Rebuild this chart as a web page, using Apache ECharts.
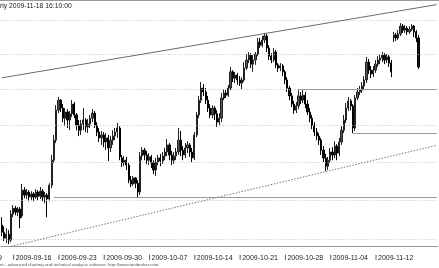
<!DOCTYPE html>
<html><head><meta charset="utf-8">
<script src="https://cdn.jsdelivr.net/npm/echarts@6/dist/echarts.min.js"></script>
<style>html,body{margin:0;padding:0;background:#fff}#c{width:439px;height:268px}</style>
</head><body><div id="c"></div>
<script>
// trading days shown (first one only partly visible, last two are blank future days)
const tradingDays = ['2009-09-14','2009-09-15','2009-09-16','2009-09-17','2009-09-18','2009-09-21','2009-09-22','2009-09-23','2009-09-24','2009-09-25','2009-09-28','2009-09-29','2009-09-30','2009-10-01','2009-10-02','2009-10-05','2009-10-06','2009-10-07','2009-10-08','2009-10-09','2009-10-12','2009-10-13','2009-10-14','2009-10-15','2009-10-16','2009-10-19','2009-10-20','2009-10-21','2009-10-22','2009-10-23','2009-10-26','2009-10-27','2009-10-28','2009-10-29','2009-10-30','2009-11-02','2009-11-03','2009-11-04','2009-11-05','2009-11-06','2009-11-09','2009-11-10','2009-11-12','2009-11-13','2009-11-16','2009-11-17','2009-11-18','2009-11-19','2009-11-20'];
const sessionSlots = ['10:00','11:45','13:30','15:15'];
const tickDates = ['2009-09-16','2009-09-23','2009-09-30','2009-10-07','2009-10-14','2009-10-21','2009-10-28','2009-11-04','2009-11-12'];
const clippedTickLabel = '2009-09-09';
// [open, close, low, high]
const ohlc = [
[33.36,33.18,33.08,33.56],
[33.18,33.03,32.96,33.33],[33.03,33.13,32.91,33.28],[33.13,32.98,32.88,33.23],[32.98,33.64,32.93,33.74],
[33.64,33.79,33.56,33.87],[33.79,33.69,33.61,33.85],[33.69,33.77,33.59,33.82],[33.77,33.54,33.28,33.82],
[33.59,34.26,33.54,34.42],[34.26,34.13,34.05,34.34],[34.13,34.21,34.03,34.29],[34.21,34.08,33.97,34.26],
[34.08,34.16,34.00,34.23],[34.16,34.08,33.97,34.21],[34.08,34.21,34.03,34.29],[34.21,34.10,34.00,34.26],
[34.10,34.23,34.03,34.34],[34.23,34.08,33.97,34.29],[34.08,34.13,33.92,34.21],[34.13,34.03,33.56,34.18],
[34.03,34.39,33.97,34.44],[34.39,35.05,34.31,35.19],[35.05,35.59,34.98,35.73],[35.59,36.41,35.51,36.55],
[36.41,36.69,36.33,36.78],[36.69,36.47,36.36,36.72],[36.47,36.19,36.08,36.58],[36.19,36.36,35.97,36.47],
[36.36,36.14,35.92,36.44],[36.14,36.31,35.86,36.39],[36.31,36.58,36.22,36.69],[36.58,36.28,36.19,36.64],
[36.28,36.00,35.86,36.33],[36.00,35.86,35.70,36.14],[35.86,36.03,35.73,36.14],[36.03,36.14,35.86,36.47],
[36.14,35.95,35.81,36.19],[35.95,36.03,35.78,36.17],[36.03,36.19,35.92,36.28],[36.19,36.33,36.08,36.44],
[36.33,36.00,35.92,36.39],[36.00,35.81,35.70,36.08],[35.81,35.65,35.54,35.92],[35.65,35.73,35.46,35.84],
[35.73,35.54,35.40,35.81],[35.54,35.65,35.32,35.78],[35.65,35.38,35.03,35.73],[35.38,35.59,35.27,35.70],
[35.59,35.70,35.46,35.86],[35.70,35.81,35.59,35.92],[35.81,35.92,35.65,36.06],[35.92,35.14,35.05,35.97],
[35.11,34.98,34.87,35.19],[34.98,35.05,34.89,35.16],[35.05,34.92,34.79,35.14],[34.92,34.52,34.44,34.98],
[34.52,34.42,34.34,34.63],[34.42,34.58,34.37,34.63],[34.58,34.44,34.31,34.60],[34.44,34.21,34.08,34.52],
[34.21,35.16,34.13,35.27],[35.16,35.32,35.05,35.40],[35.32,35.19,35.05,35.38],[35.19,35.05,34.95,35.30],
[35.05,35.14,34.92,35.24],[35.14,34.98,34.84,35.19],[34.98,34.79,34.68,35.05],[34.79,35.00,34.63,35.11],
[35.00,35.11,34.92,35.19],[35.11,35.03,34.89,35.22],[35.03,35.16,34.95,35.27],[35.16,35.27,35.05,35.38],
[35.27,35.46,35.16,35.62],[35.46,35.19,35.05,35.51],[35.19,35.05,34.92,35.30],[35.05,35.16,34.95,35.27],
[35.16,35.27,35.05,35.38],[35.27,35.59,35.19,35.92],[35.59,35.32,35.16,35.84],[35.32,35.19,35.05,35.43],
[35.19,35.38,35.11,35.51],[35.38,35.46,35.24,35.56],[35.46,35.27,35.14,35.51],[35.27,35.11,35.00,35.38],
[35.11,35.73,35.05,35.81],[35.73,36.28,35.67,36.36],[36.28,36.69,36.19,36.81],[36.69,37.03,36.61,37.20],
[37.03,36.92,36.81,37.14],[36.92,36.69,36.58,37.03],[36.69,36.47,36.36,36.81],[36.47,36.28,36.19,36.58],
[36.28,36.47,36.19,36.55],[36.47,36.31,36.14,36.53],[36.31,36.08,35.95,36.41],[36.08,36.19,36.00,36.33],
[36.19,36.75,36.08,36.89],[36.75,36.89,36.69,37.00],[36.89,36.83,36.75,36.97],[36.83,37.03,36.78,37.12],
[37.03,37.49,36.97,37.63],[37.49,37.31,37.20,37.54],[37.31,37.40,37.17,37.49],[37.40,37.26,37.12,37.46],
[37.26,37.17,37.09,37.37],[37.17,37.26,37.00,37.34],[37.26,37.60,37.20,37.77],[37.60,37.83,37.54,38.00],
[37.83,37.97,37.74,38.06],[37.97,37.71,37.60,38.03],[37.71,37.83,37.49,37.97],[37.83,38.00,37.69,38.06],
[38.00,38.35,37.94,38.47],[38.35,38.26,38.18,38.47],[38.26,38.41,38.20,38.53],[38.41,38.53,38.32,38.62],
[38.53,38.18,38.06,38.59],[38.18,37.94,37.83,38.26],[37.94,37.83,37.74,38.03],[37.83,38.06,37.77,38.18],
[38.06,37.69,37.60,38.12],[37.69,37.60,37.49,37.74],[37.60,37.66,37.51,37.74],[37.66,37.49,37.37,37.71],
[37.49,37.26,37.14,37.54],[37.26,37.03,36.92,37.34],[37.03,36.81,36.69,37.09],[36.81,36.58,36.50,36.89],
[36.58,36.41,36.31,36.67],[36.41,36.53,36.33,36.64],[36.53,36.81,36.44,36.97],[36.81,36.69,36.58,36.92],
[36.69,36.83,36.61,36.97],[36.83,36.58,36.47,36.92],[36.58,36.36,36.28,36.69],[36.36,36.19,36.08,36.47],
[36.19,36.00,35.89,36.28],[36.00,35.81,35.70,36.08],[35.81,35.70,35.59,35.92],[35.70,35.59,35.46,35.78],
[35.59,35.32,35.19,35.65],[35.32,35.11,35.00,35.43],[35.11,34.89,34.76,35.22],[34.89,35.05,34.79,35.14],
[35.05,35.27,34.98,35.38],[35.27,35.19,35.05,35.40],[35.19,35.43,35.11,35.56],[35.43,35.24,35.05,35.48],
[35.24,35.54,35.16,35.65],[35.54,35.86,35.46,35.97],[35.86,36.14,35.78,36.28],[36.14,36.47,36.06,36.61],
[36.47,36.67,36.39,36.78],[36.67,36.53,36.41,36.72],[36.53,35.92,35.78,36.58],[35.92,36.75,35.84,36.83],
[36.75,36.92,36.69,37.03],[36.92,36.97,36.83,37.09],[36.97,37.09,36.89,37.20],[37.09,37.26,36.97,37.37],
[37.26,37.77,37.17,37.92],[37.77,37.54,37.43,37.86],[37.54,37.43,37.31,37.66],[37.43,37.54,37.34,37.66],
[37.54,37.71,37.46,37.83],[37.71,37.83,37.63,37.94],[37.83,37.89,37.71,38.00],[37.89,37.97,37.77,38.06],
[37.97,37.83,37.71,38.03],[37.83,37.92,37.74,38.00],[37.92,37.74,37.63,37.97],[37.74,37.49,37.34,37.83],
[38.47,38.56,38.35,38.65],[38.56,38.47,38.38,38.62],[38.47,38.59,38.41,38.70],[38.59,38.82,38.53,38.91],
[38.82,38.70,38.62,38.88],[38.70,38.76,38.62,38.85],[38.76,38.65,38.56,38.82],[38.65,38.73,38.59,38.82],
[38.73,38.82,38.67,38.88],[38.82,38.65,38.50,38.85],[38.65,38.47,38.35,38.70],[38.47,37.63,37.57,38.56]
];
const gridPrices = [33, 34, 35, 36, 37, 38, 39];
const priceRange = [32.815, 39.569];
const upperTrendBars = ['2009-09-14 15:15', '2009-11-20 15:15'];
const upperTrend = [37.32, 39.46];
const lowerTrendBars = ['2009-09-15 15:15', '2009-11-20 15:15'];
const lowerTrend = [32.822, 35.45];
const levelPrices = [34.08, 37.00, 35.78];
const levelStartBars = ['2009-09-22 13:30', '2009-10-29 13:30', '2009-11-06 13:30'];

const categories = [];
tradingDays.forEach((d, i) => sessionSlots.forEach((s, k) => {
  if (i > 0 || k === sessionSlots.length - 1) categories.push(d + ' ' + s);
}));
const lastCat = categories[categories.length - 1];
const FONT = "'Liberation Sans',Arial,sans-serif";
const isTick = v => v.endsWith(' ' + sessionSlots[0]) && tickDates.includes(v.slice(0, 10));

const chart = echarts.init(document.getElementById('c'), null, {renderer: 'canvas'});
const noLabel = {show: false};
chart.setOption({
  animation: false,
  grid: {left: 0.7, right: 1.2, top: 1, bottom: 21.3},
  xAxis: {
    type: 'category', data: categories, boundaryGap: true,
    axisLine: {show: true, lineStyle: {color: '#9a9a9a', width: 1}},
    axisTick: {show: false}, splitLine: {show: false},
    axisLabel: {
      show: true, interval: (i, v) => isTick(v), align: 'left', margin: 8,
      formatter: v => '{t|}{d|' + v.slice(0, 10) + '}',
      rich: {
        t: {width: 1, height: 5, backgroundColor: '#555', verticalAlign: 'top'},
        d: {fontSize: 7, fontFamily: FONT, color: '#222', padding: [0, 0, 0, 1.5]}
      }
    }
  },
  yAxis: {
    type: 'log', logBase: 10, min: priceRange[0], max: priceRange[1],
    axisLine: {show: false}, axisTick: {show: false}, axisLabel: {show: false}, splitLine: {show: false}
  },
  series: [
    {
      type: 'line', data: [], z: 1, silent: true,
      markLine: {
        silent: true, symbol: ['none', 'none'], label: noLabel, animation: false,
        lineStyle: {color: '#c2c2c2', type: [1, 2], width: 1},
        data: gridPrices.map(p => ({yAxis: p}))
      }
    },
    {
      type: 'candlestick', data: ohlc, z: 3, barWidth: '75%', silent: true,
      itemStyle: {color: '#555', color0: '#111', borderColor: '#222', borderColor0: '#000', borderWidth: 1}
    },
    {
      type: 'line', data: [], z: 4, silent: true,
      markLine: {
        silent: true, symbol: ['none', 'none'], label: noLabel, animation: false,
        data: [
          [{coord: [upperTrendBars[0], upperTrend[0]], lineStyle: {color: '#6a6a6a', width: 1, type: 'solid'}}, {coord: [upperTrendBars[1], upperTrend[1]]}],
          [{coord: [lowerTrendBars[0], lowerTrend[0]], lineStyle: {color: '#777', width: 1, type: [1.5, 1.5]}}, {coord: [lowerTrendBars[1], lowerTrend[1]]}]
        ].concat(levelPrices.map((p, i) => [
          {coord: [levelStartBars[i], p], lineStyle: {color: '#999', width: 1.2, type: 'solid'}},
          {coord: [lastCat, p]}
        ]))
      }
    }
  ],
  graphic: [
    {type: 'line', shape: {x1: 0, y1: 0.5, x2: 439, y2: 0.5}, style: {stroke: '#9a9a9a', lineWidth: 1}, silent: true},
    {type: 'text', x: 0, y: 1.5, scaleX: 0.85, style: {text: 'rly 2009-11-18 16:10:00', font: '8px ' + FONT, fill: '#222', verticalAlign: 'top'}, silent: true},
    {type: 'text', x: -33.8, y: 255, style: {text: clippedTickLabel, font: '7px ' + FONT, fill: '#222', verticalAlign: 'top'}, silent: true},
    {type: 'text', x: 0, y: 262.5, style: {text: 'er - advanced charting and technical analysis software. http://www.amibroker.com', font: '4.4px ' + FONT, fill: '#555', verticalAlign: 'top'}, silent: true}
  ]
});
</script>
</body></html>
